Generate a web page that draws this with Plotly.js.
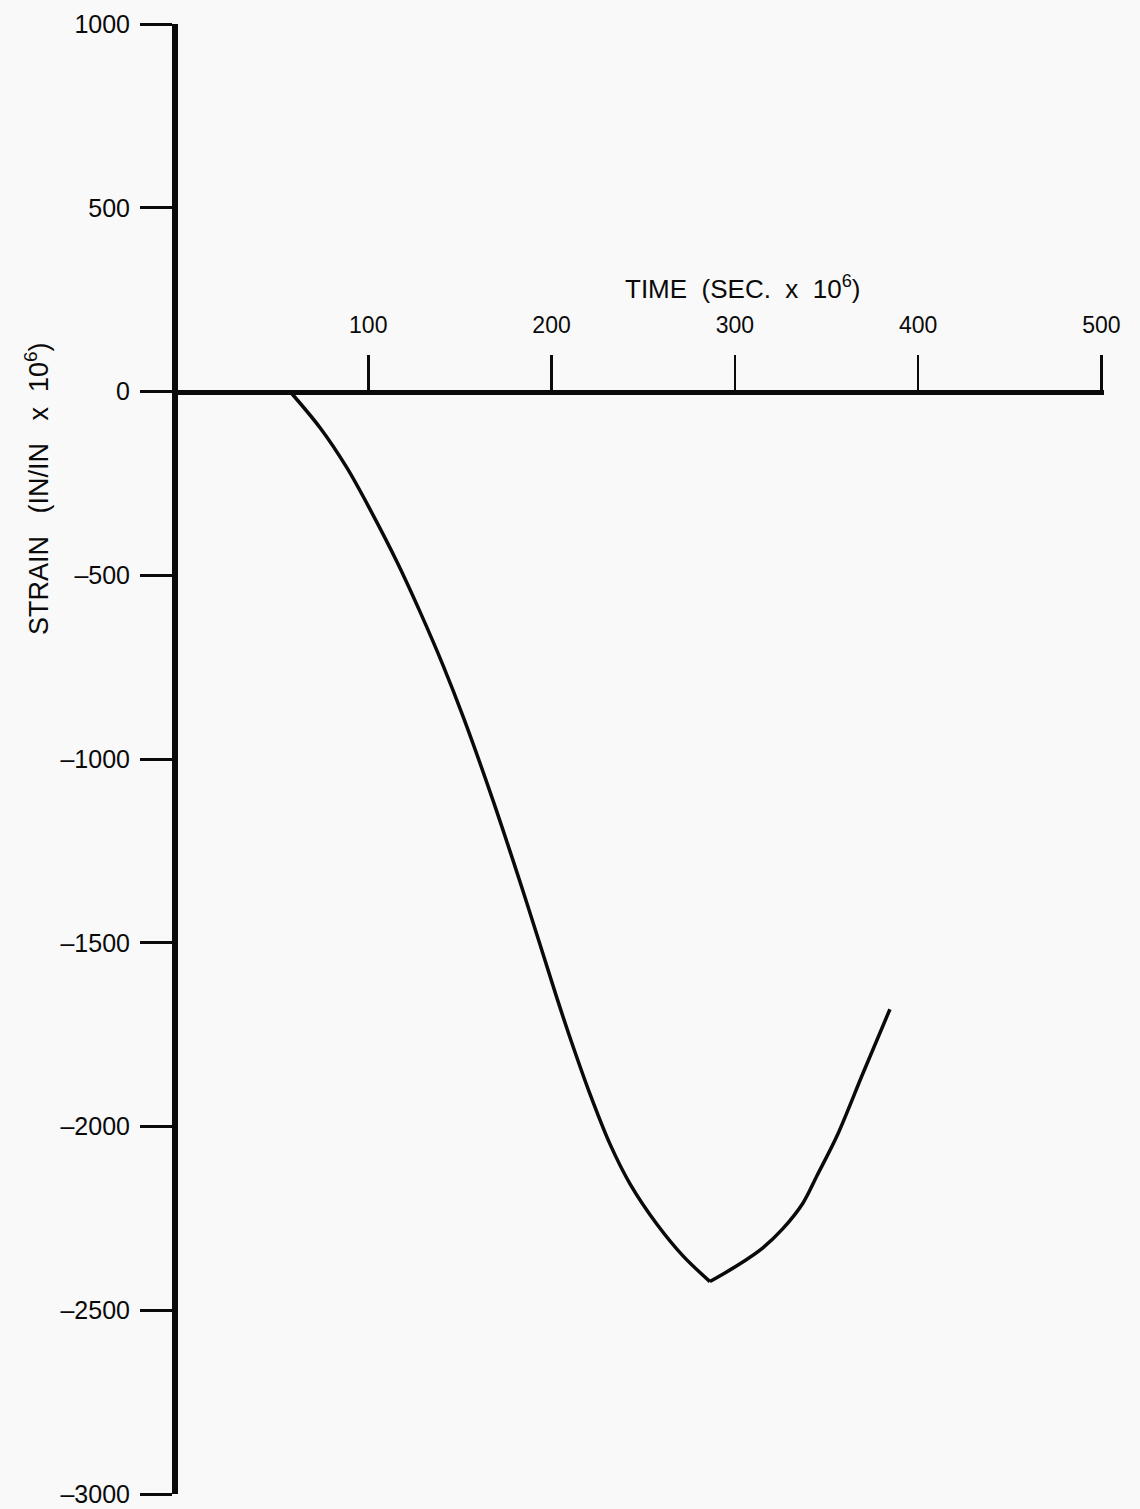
<!DOCTYPE html>
<html>
<head>
<meta charset="utf-8">
<script src="https://cdn.plot.ly/plotly-3.0.1.min.js"></script>
<style>
  html, body { margin: 0; padding: 0; background: #f9f9f9; }
  #chart { width: 1140px; height: 1509px; }
</style>
</head>
<body>
<div id="chart"></div>
<script>
// Data
var timeValues = [57.3, 73.6, 88.4, 100.9, 115.7, 128.2, 140.8, 151.7, 168.0, 186.6, 202.9, 210.0, 221.0, 231.9, 242.8, 257.5, 271.7, 286.4, 301.1, 315.3, 326.2, 337.2, 344.8, 355.7, 369.9, 384.6];
var strainValues = [0, -98, -208, -320, -464, -599, -745, -884, -1112, -1393, -1650, -1757, -1912, -2048, -2156, -2266, -2352, -2422, -2379, -2330, -2278, -2208, -2134, -2026, -1855, -1681];

var xTickVals = [100, 200, 300, 400, 500];
var xTickText = ["100", "200", "300", "400", "500"];
var yTickVals = [1000, 500, 0, -500, -1000, -1500, -2000, -2500, -3000];
var yTickText = ["1000", "500", "0", "\u2013500", "\u20131000", "\u20131500", "\u20132000", "\u20132500", "\u20133000"];

var xTitle = "TIME\u00a0 (SEC.\u00a0 x\u00a0 10<sup>6</sup>)";
var yTitle = "STRAIN\u00a0\u00a0 (IN/IN\u00a0\u00a0 x\u00a0 10<sup>6</sup>)";

var font = "Liberation Sans, Arial, Helvetica, sans-serif";
var ink = "#0a0a0a";

// split at the minimum so the sharp turn is kept
var minIdx = 0;
for (var i = 1; i < strainValues.length; i++) {
  if (strainValues[i] < strainValues[minIdx]) minIdx = i;
}

var lineStyle = { color: ink, width: 3.5, shape: "spline", smoothing: 0.9 };

var traceDown = {
  x: timeValues.slice(0, minIdx + 1),
  y: strainValues.slice(0, minIdx + 1),
  type: "scatter", mode: "lines",
  line: lineStyle, showlegend: false
};
var traceUp = {
  x: timeValues.slice(minIdx),
  y: strainValues.slice(minIdx),
  type: "scatter", mode: "lines",
  line: lineStyle, showlegend: false
};

var mT = 24, mB = 15;
var plotH = 1509 - mT - mB;
function py(p) { return (1509 - mB - p) / plotH; }

var layout = {
  width: 1140,
  height: 1509,
  margin: { l: 178, r: 36, t: mT, b: mB },
  paper_bgcolor: "#f9f9f9",
  plot_bgcolor: "#f9f9f9",
  showlegend: false,
  xaxis: {
    range: [-3.8, 501.4],
    anchor: "free",
    position: 0.75,
    side: "top",
    showline: true,
    linecolor: ink,
    linewidth: 5,
    ticks: "outside",
    ticklen: 35,
    tickwidth: 2.5,
    tickcolor: ink,
    tickmode: "array",
    tickvals: xTickVals,
    ticktext: xTickText,
    tickfont: { family: font, size: 23, color: ink },
    ticklabelstandoff: 12,
    ticklabeloverflow: "allow",
    showgrid: false,
    zeroline: false,
    fixedrange: true
  },
  yaxis: {
    range: [-3000, 1000],
    showline: true,
    linecolor: ink,
    linewidth: 6,
    ticks: "outside",
    ticklen: 32,
    tickwidth: 3,
    tickcolor: ink,
    tickmode: "array",
    tickvals: yTickVals,
    ticktext: yTickText,
    tickfont: { family: font, size: 25, color: ink },
    ticklabelstandoff: 5,
    ticklabeloverflow: "allow",
    showgrid: false,
    zeroline: false,
    fixedrange: true
  },
  annotations: [
    {
      text: xTitle,
      xref: "paper", yref: "paper",
      x: (743 - 178) / 926, y: py(287),
      xanchor: "center", yanchor: "middle",
      showarrow: false,
      font: { family: font, size: 26, color: ink }
    },
    {
      text: yTitle,
      xref: "paper", yref: "paper",
      x: (37 - 178) / 926, y: py(489),
      xanchor: "center", yanchor: "middle",
      textangle: -90,
      showarrow: false,
      font: { family: font, size: 27, color: ink }
    }
  ]
};

Plotly.newPlot("chart", [traceDown, traceUp], layout, { displayModeBar: false, staticPlot: true });
</script>
</body>
</html>
